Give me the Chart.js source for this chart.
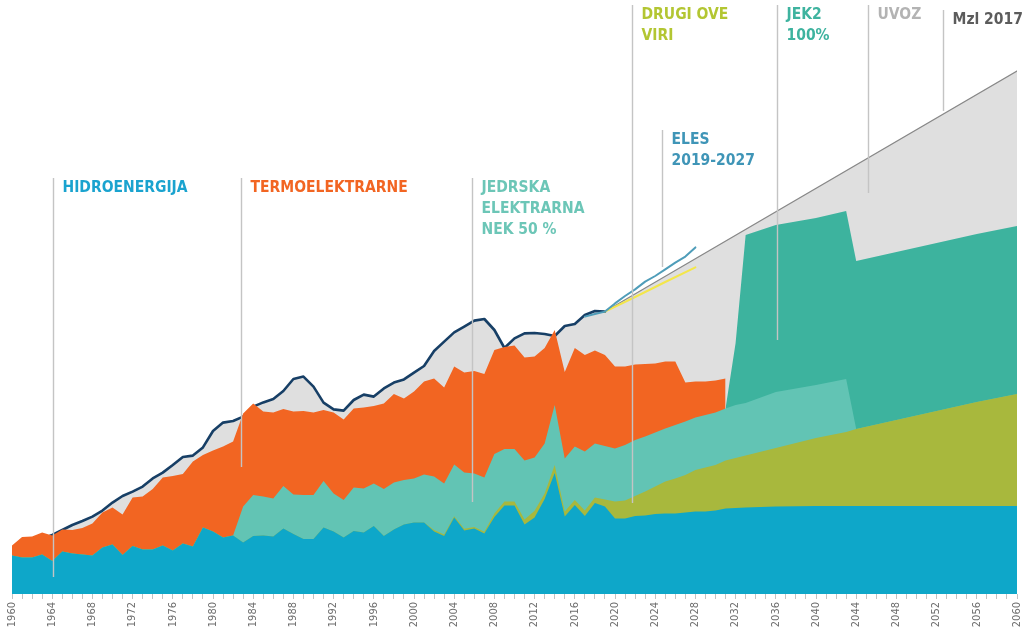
<!DOCTYPE html>
<html>
<head>
<meta charset="utf-8">
<script src="https://cdn.jsdelivr.net/npm/chart.js@4.4.0/dist/chart.umd.min.js"></script>
<style>
  html, body { margin: 0; padding: 0; background: #fff; }
  #wrap { width: 1022px; height: 635px; }
</style>
</head>
<body>
<div id="wrap"><canvas id="chart" width="1022" height="635"></canvas></div>
<script>
// leta: letno do 2031, nato samo prelomne točke scenarija
const years = [
  1960, 1961, 1962, 1963, 1964, 1965, 1966, 1967, 1968, 1969,
  1970, 1971, 1972, 1973, 1974, 1975, 1976, 1977, 1978, 1979,
  1980, 1981, 1982, 1983, 1984, 1985, 1986, 1987, 1988, 1989,
  1990, 1991, 1992, 1993, 1994, 1995, 1996, 1997, 1998, 1999,
  2000, 2001, 2002, 2003, 2004, 2005, 2006, 2007, 2008, 2009,
  2010, 2011, 2012, 2013, 2014, 2015, 2016, 2017, 2018, 2019,
  2020, 2021, 2022, 2023, 2024, 2025, 2026, 2027, 2028, 2029,
  2030, 2031,
  2032, 2033, 2036, 2040, 2043, 2044, 2048, 2052, 2056, 2060
];

// proizvodnja po virih (TWh)
const hydro = [
  1.92, 1.83, 1.82, 1.97, 1.65, 2.13, 2.02, 1.97, 1.92, 2.33,
  2.48, 1.95, 2.40, 2.22, 2.22, 2.43, 2.17, 2.53, 2.37, 3.33,
  3.12, 2.83, 2.92, 2.57, 2.90, 2.92, 2.87, 3.28, 3.00, 2.75,
  2.75, 3.32, 3.12, 2.82, 3.15, 3.07, 3.40, 2.90, 3.23, 3.48,
  3.57, 3.57, 3.13, 2.90, 3.82, 3.18, 3.27, 3.03, 3.85, 4.42,
  4.42, 3.48, 3.83, 4.75, 6.05, 3.87, 4.45, 3.90, 4.55, 4.37,
  3.78, 3.78, 3.90, 3.93, 4.00, 4.03, 4.03, 4.07, 4.12, 4.12,
  4.17, 4.28,
  4.30, 4.32, 4.37, 4.40, 4.40, 4.40, 4.40, 4.40, 4.40, 4.40
];
const ove = [
  0, 0, 0, 0, 0, 0, 0, 0, 0, 0,
  0, 0, 0, 0, 0, 0, 0, 0, 0, 0,
  0, 0, 0, 0, 0, 0, 0, 0, 0, 0,
  0, 0, 0, 0, 0, 0, 0, 0, 0, 0,
  0, 0, 0.07, 0.07, 0.07, 0.08, 0.08, 0.08, 0.17, 0.20,
  0.20, 0.25, 0.33, 0.28, 0.40, 0.25, 0.25, 0.27, 0.28, 0.36,
  0.84, 0.89, 1.00, 1.19, 1.37, 1.59, 1.75, 1.88, 2.08, 2.21,
  2.28, 2.39,
  2.50, 2.60, 2.93, 3.40, 3.70, 3.85, 4.30, 4.75, 5.20, 5.60
];
const nek = [
  0, 0, 0, 0, 0, 0, 0, 0, 0, 0,
  0, 0, 0, 0, 0, 0, 0, 0, 0, 0,
  0, 0, 0, 1.80, 2.05, 1.95, 1.91, 2.12, 1.98, 2.20,
  2.20, 2.33, 1.91, 1.88, 2.17, 2.21, 2.13, 2.35, 2.34, 2.22,
  2.21, 2.41, 2.67, 2.56, 2.59, 2.82, 2.68, 2.72, 2.98, 2.63,
  2.63, 2.94, 2.66, 2.50, 3.00, 2.65, 2.67, 2.95, 2.69, 2.67,
  2.66, 2.78, 2.80, 2.75, 2.70, 2.66, 2.67, 2.67, 2.63, 2.62,
  2.62, 2.61,
  2.65, 2.63, 2.80, 2.65, 2.65, 0, 0, 0, 0, 0
];
const jek2 = [
  null, null, null, null, null, null, null, null, null, null,
  null, null, null, null, null, null, null, null, null, null,
  null, null, null, null, null, null, null, null, null, null,
  null, null, null, null, null, null, null, null, null, null,
  null, null, null, null, null, null, null, null, null, null,
  null, null, null, null, null, null, null, null, null, null,
  null, null, null, null, null, null, null, null, null, null,
  null, 0,
  3.10, 8.40, 8.35, 8.35, 8.40, 8.40, 8.40, 8.40, 8.40, 8.40
];
const thermo = [
  0.50, 1.02, 1.06, 1.11, 1.27, 1.10, 1.18, 1.33, 1.61, 1.74,
  1.85, 2.02, 2.42, 2.65, 3.03, 3.40, 3.73, 3.47, 4.25, 3.62,
  4.05, 4.54, 4.70, 4.66, 4.58, 4.25, 4.30, 3.85, 4.14, 4.20,
  4.12, 3.55, 4.05, 4.03, 3.96, 4.05, 3.87, 4.28, 4.43, 4.08,
  4.34, 4.64, 4.91, 4.80, 4.89, 4.99, 5.12, 5.17, 5.20, 5.10,
  5.18, 5.16, 5.05, 4.77, 3.75, 4.33, 4.93, 4.83, 4.66, 4.55,
  4.09, 3.92, 3.78, 3.63, 3.46, 3.34, 3.17, 1.95, 1.79, 1.67,
  1.60, 1.50,
  null, null, null, null, null, null, null, null, null, null
];

// poraba električne energije (TWh)
const consYears = [
  1960, 1961, 1962, 1963, 1964, 1965, 1966, 1967, 1968, 1969,
  1970, 1971, 1972, 1973, 1974, 1975, 1976, 1977, 1978, 1979,
  1980, 1981, 1982, 1983, 1984, 1985, 1986, 1987, 1988, 1989,
  1990, 1991, 1992, 1993, 1994, 1995, 1996, 1997, 1998, 1999,
  2000, 2001, 2002, 2003, 2004, 2005, 2006, 2007, 2008, 2009,
  2010, 2011, 2012, 2013, 2014, 2015, 2016, 2017, 2018, 2019
];
const consumption = [
  2.00, 2.30, 2.55, 2.75, 2.95, 3.20, 3.45, 3.65, 3.87, 4.17,
  4.57, 4.90, 5.12, 5.37, 5.78, 6.07, 6.45, 6.85, 6.92, 7.33,
  8.15, 8.57, 8.65, 8.87, 9.37, 9.58, 9.75, 10.15, 10.75, 10.87,
  10.37, 9.57, 9.23, 9.17, 9.70, 9.97, 9.87, 10.28, 10.57, 10.73,
  11.07, 11.40, 12.15, 12.62, 13.08, 13.37, 13.67, 13.75, 13.20, 12.30,
  12.78, 13.03, 13.05, 13.00, 12.90, 13.40, 13.50, 13.95, 14.15, 14.12
];

// napovedi
const mzlYears = [2019, 2060];
const mzl = [14.12, 26.15];
const elesYears = [2017, 2018, 2019, 2020, 2021, 2022, 2023, 2024, 2025, 2026, 2027, 2028];
const elesHigh = [13.87, 14.00, 14.12, 14.53, 14.90, 15.23, 15.62, 15.90, 16.23, 16.57, 16.87, 17.33];
const elesLowYears = [2019, 2022, 2025, 2028];
const elesLow = [14.12, 14.85, 15.60, 16.33];

// oznake: leto, vrh in dno črte (TWh), besedilo
const notes = [
  { year: 1964.1, top: 20.8, bottom: 0.85, text: ['HIDROENERGIJA'], color: '#1aa3cf' },
  { year: 1982.8, top: 20.8, bottom: 6.35, text: ['TERMOELEKTRARNE'], color: '#f26522' },
  { year: 2005.8, top: 20.8, bottom: 4.6, text: ['JEDRSKA', 'ELEKTRARNA', 'NEK 50 %'], color: '#6cc6b7' },
  { year: 2021.7, top: 29.45, bottom: 4.55, text: ['DRUGI OVE', 'VIRI'], color: '#b3c632' },
  { year: 2024.7, top: 23.2, bottom: 16.35, text: ['ELES', '2019-2027'], color: '#3f95b7' },
  { year: 2036.1, top: 29.45, bottom: 12.7, text: ['JEK2', '100%'], color: '#3eb39f' },
  { year: 2045.2, top: 29.45, bottom: 20.05, text: ['UVOZ'], color: '#b3b3b3' },
  { year: 2052.6, top: 29.2, bottom: 24.15, text: ['Mzl 2017'], color: '#5c5c5c' }
];

function hasFont(name) {
  const c = document.createElement('canvas').getContext('2d');
  const s = 'HIDROENERGIJA 2019-2027';
  c.font = '20px monospace';
  const w0 = c.measureText(s).width;
  c.font = '20px "' + name + '", monospace';
  return c.measureText(s).width !== w0;
}
const narrow = hasFont('Liberation Sans Narrow');
const labelFamily = narrow ? '"Liberation Sans Narrow"' : '"DejaVu Sans Condensed"';
const labelSize = narrow ? 18 : 15.5;
const tickFamily = narrow ? 'Liberation Sans Narrow' : 'DejaVu Sans Condensed';
const tickSize = narrow ? 13 : 11;

// kumulativni vrhovi za zložene ploskve
const topHydro = hydro.slice();
const topOve = years.map((_, i) => topHydro[i] + ove[i]);
const topNek = years.map((_, i) => topOve[i] + nek[i]);
const topJek = years.map((_, i) => jek2[i] == null ? null : topNek[i] + jek2[i]);
const topThermo = years.map((_, i) => thermo[i] == null ? null : topNek[i] + (jek2[i] || 0) + thermo[i]);

const pts = (xs, ys) => xs.map((x, i) => ({ x: x, y: ys[i] }));
const envelope = pts(consYears, consumption).concat([{ x: mzlYears[1], y: mzl[1] }]);

function area(label, data, color, order) {
  return { label, data, backgroundColor: color, borderColor: 'rgba(0,0,0,0)', borderWidth: 0,
           fill: 'origin', pointRadius: 0, tension: 0, order };
}
function line(label, data, color, width, order) {
  return { label, data, borderColor: color, borderWidth: width, fill: false,
           pointRadius: 0, tension: 0, order, borderJoinStyle: 'round', borderCapStyle: 'round' };
}

const notesPlugin = {
  id: 'notes',
  afterDatasetsDraw(chart) {
    const { ctx, scales: { x, y } } = chart;
    ctx.save();
    notes.forEach(n => {
      const px = Math.round(x.getPixelForValue(n.year)) + 0.5;
      const top = y.getPixelForValue(n.top);
      ctx.strokeStyle = '#c4c4c4';
      ctx.lineWidth = 1.4;
      ctx.beginPath();
      ctx.moveTo(px, top);
      ctx.lineTo(px, y.getPixelForValue(n.bottom));
      ctx.stroke();
      ctx.fillStyle = n.color;
      ctx.font = 'bold ' + labelSize + 'px ' + labelFamily;
      ctx.textBaseline = 'alphabetic';
      n.text.forEach((t, i) => ctx.fillText(t, px + 9, top + 14 + i * 20.8));
    });
    ctx.restore();
  }
};

new Chart(document.getElementById('chart'), {
  type: 'line',
  data: {
    datasets: [
      line('ELES visoka', pts(elesYears, elesHigh), '#4f9db9', 2, 0),
      line('ELES nizka', pts(elesLowYears, elesLow), '#f3e64a', 2, 0),
      line('Mzl 2017', pts(mzlYears, mzl), '#888888', 1.2, 0),
      area('Hidroenergija', pts(years, topHydro), '#0ea7c9', 1),
      area('Drugi OVE', pts(years, topOve), '#a8b83d', 2),
      area('NEK 50 %', pts(years, topNek), '#62c4b4', 3),
      area('JEK2', pts(years, topJek), '#3db39e', 4),
      area('Termoelektrarne', pts(years, topThermo), '#f26522', 5),
      line('Poraba', pts(consYears, consumption), '#173f66', 2.6, 6),
      area('Uvoz', envelope, '#dfdfdf', 7)
    ]
  },
  options: {
    responsive: false,
    animation: false,
    devicePixelRatio: 1,
    layout: { padding: { left: 12, right: 5, top: 0, bottom: 0 } },
    plugins: { legend: { display: false }, tooltip: { enabled: false } },
    scales: {
      x: {
        type: 'linear',
        min: 1960,
        max: 2060,
        border: { display: false },
        grid: { drawOnChartArea: false, drawTicks: true, tickLength: 5, color: '#c2c2c2' },
        ticks: {
          stepSize: 1,
          autoSkip: false,
          minRotation: 90,
          maxRotation: 90,
          padding: 3,
          color: '#6e6e6e',
          font: { family: tickFamily, size: tickSize },
          callback: v => (v % 4 === 0 ? String(v) : '')
        },
        afterFit(scale) {
          scale.height = 41;
          scale.paddingLeft = 0;
          scale.paddingRight = 0;
        }
      },
      y: { display: false, min: 0, max: 29.7 }
    }
  },
  plugins: [notesPlugin]
});
</script>
</body>
</html>
